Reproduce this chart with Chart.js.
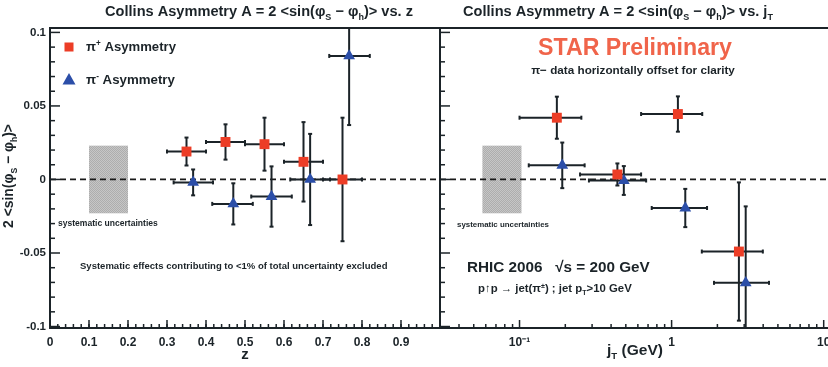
<!DOCTYPE html>
<html><head><meta charset="utf-8">
<script src="https://cdn.jsdelivr.net/npm/chart.js@4.4.1/dist/chart.umd.min.js"></script>
<style>
html,body{margin:0;padding:0;background:#fff;overflow:hidden;width:828px;height:367px}
#wrap{position:relative;width:828px;height:367px;overflow:hidden;background:#fff}
canvas{position:absolute;top:0}
#cz{left:0}
#cj{left:439px}
</style></head>
<body><div id="wrap"><canvas id="cz" width="442" height="367"></canvas><canvas id="cj" width="401" height="367"></canvas></div>
<script>
// ---------------- DATA ----------------
// Left panel: asymmetry vs z
const zPiPlus    = [0.35, 0.45, 0.55, 0.65, 0.75];
const zPiPlusLo  = [0.30, 0.40, 0.50, 0.60, 0.70];
const zPiPlusHi  = [0.40, 0.50, 0.60, 0.70, 0.80];
const aZPiPlus   = [0.019, 0.0255, 0.024, 0.012, 0.000];
const eZPiPlus   = [0.0095, 0.012, 0.018, 0.027, 0.042];

const zPiMinus   = [0.367, 0.470, 0.568, 0.667, 0.767];
const zPiMinusLo = [0.317, 0.416, 0.516, 0.616, 0.716];
const zPiMinusHi = [0.418, 0.520, 0.620, 0.718, 0.820];
const aZPiMinus  = [-0.002, -0.0166, -0.0116, 0.000, 0.084];
const eZPiMinus  = [0.0088, 0.014, 0.0205, 0.031, 0.047];

// Right panel: asymmetry vs jT (GeV)
const jtPiPlus   = [0.176, 0.44, 1.10, 2.77];
const jtPiPlusLo = [0.100, 0.25, 0.63, 1.58];
const jtPiPlusHi = [0.255, 0.63, 1.59, 3.98];
const aJPiPlus   = [0.042, 0.0034, 0.0445, -0.049];
const eJPiPlus   = [0.0143, 0.0075, 0.012, 0.047];

const jtPiMinus   = [0.191, 0.485, 1.23, 3.07];
const jtPiMinusLo = [0.115, 0.286, 0.74, 1.90];
const jtPiMinusHi = [0.268, 0.68, 1.71, 4.37];
const aJPiMinus   = [0.0096, -0.0007, -0.0194, -0.0703];
const eJPiMinus   = [0.0155, 0.0098, 0.013, 0.052];

// systematic uncertainty bands
const sysZRange  = [0.1, 0.2];
const sysJtRange = [0.057, 0.103];
const sysHalf    = 0.023;

// ticks
const yTicks      = [-0.1, -0.05, 0, 0.05, 0.1];
const yTickLabels = ['-0.1', '-0.05', '0', '0.05', '0.1'];
const zTicks      = [0, 0.1, 0.2, 0.3, 0.4, 0.5, 0.6, 0.7, 0.8, 0.9];
const zTickLabels = ['0', '0.1', '0.2', '0.3', '0.4', '0.5', '0.6', '0.7', '0.8', '0.9'];
const jtTicks      = [0.1, 1, 10];
const jtTickLabels = ['10\u207B\u00B9', '1', '10'];

// ---------------- STYLE / HELPERS ----------------
const FONT = '"Liberation Sans", Arial, Helvetica, sans-serif';
const INK = '#1b2328';
const RED = '#ec3d26';
const BLUE = '#2b4ea8';

function setFont(ctx, s){ ctx.font = 'bold ' + s + 'px ' + FONT; }
function partSize(p, s){ return p[1] ? s * 0.62 : s; }
function richWidth(ctx, parts, s){
  let w = 0;
  for (const p of parts){ setFont(ctx, partSize(p, s)); w += ctx.measureText(p[0]).width; }
  return w;
}
function drawRich(ctx, t, ox){
  let s = t.size;
  if (t.fit) s = s * t.fit / richWidth(ctx, t.parts, s);
  const w = richWidth(ctx, t.parts, s);
  ctx.save();
  ctx.fillStyle = t.color || INK;
  ctx.textBaseline = 'alphabetic'; ctx.textAlign = 'left';
  let x = t.x - ox, y = t.y;
  if (t.rotate){ ctx.translate(x, y); ctx.rotate(-Math.PI/2); x = 0; y = 0; }
  let cx = t.align === 'center' ? x - w/2 : (t.align === 'right' ? x - w : x);
  for (const p of t.parts){
    const ps = partSize(p, s); setFont(ctx, ps);
    const dy = p[1] === 'sub' ? s*0.28 : (p[1] === 'sup' ? -s*0.38 : 0);
    ctx.fillText(p[0], cx, y + dy);
    cx += ctx.measureText(p[0]).width;
  }
  ctx.restore();
}
function seg(ctx, x1, y1, x2, y2){ ctx.beginPath(); ctx.moveTo(x1, y1); ctx.lineTo(x2, y2); ctx.stroke(); }

function makePattern(){
  const c = document.createElement('canvas'); c.width = 2; c.height = 2;
  const g = c.getContext('2d');
  g.fillStyle = '#c6c6c6'; g.fillRect(0,0,2,2);
  g.fillStyle = '#adadad'; g.fillRect(0,0,1,1); g.fillRect(1,1,1,1);
  return c;
}
const patCanvas = makePattern();

function decorPlugin(cfg){
  return {
    id: 'decor_' + cfg.name,
    beforeDatasetsDraw(chart){
      const {ctx, chartArea: a, scales: {x, y}} = chart;
      ctx.save();
      ctx.beginPath(); ctx.rect(a.left, a.top, a.right - a.left, a.bottom - a.top); ctx.clip();
      // systematic band
      const bx1 = x.getPixelForValue(cfg.sys[0]), bx2 = x.getPixelForValue(cfg.sys[1]);
      const by1 = y.getPixelForValue(sysHalf), by2 = y.getPixelForValue(-sysHalf);
      ctx.fillStyle = ctx.createPattern(patCanvas, 'repeat');
      ctx.fillRect(bx1, by1, bx2 - bx1, by2 - by1);
      // zero dashed line
      ctx.strokeStyle = '#1a1a1a'; ctx.lineWidth = 1.8; ctx.setLineDash([6, 4]);
      const y0 = y.getPixelForValue(0);
      seg(ctx, a.left, y0, a.right, y0);
      ctx.setLineDash([]);
      // error bars
      ctx.strokeStyle = INK; ctx.lineWidth = 2;
      chart.data.datasets.forEach(ds => {
        ds.data.forEach((pt, i) => {
          const px = x.getPixelForValue(pt.x), py = y.getPixelForValue(pt.y);
          const xl = x.getPixelForValue(ds.xLo[i]), xh = x.getPixelForValue(ds.xHi[i]);
          const yt = y.getPixelForValue(pt.y + ds.yErr[i]), yb = y.getPixelForValue(pt.y - ds.yErr[i]);
          seg(ctx, xl, py, xh, py);
          seg(ctx, px, yt, px, yb);
          seg(ctx, xl, py - 2, xl, py + 2);
          seg(ctx, xh, py - 2, xh, py + 2);
          seg(ctx, px - 2, yt, px + 2, yt);
          seg(ctx, px - 2, yb, px + 2, yb);
        });
      });
      ctx.restore();
    },
    afterDraw(chart){
      const {ctx, chartArea: a, scales: {x, y}} = chart;
      ctx.save();
      ctx.strokeStyle = INK; ctx.lineWidth = 2;
      ctx.strokeRect(a.left, a.top, a.right - a.left, a.bottom - a.top);
      ctx.lineWidth = 1.5;
      // y ticks (inward from left edge)
      for (let k = -10; k <= 10; k++){
        const v = k / 100, py = y.getPixelForValue(v);
        const major = (k % 5 === 0);
        seg(ctx, a.left, py, a.left + (major ? 10 : 5), py);
      }
      // x ticks (inward from bottom)
      cfg.xMinor.forEach(v => {
        const px = x.getPixelForValue(v);
        if (px > a.left + 1 && px < a.right - 1) seg(ctx, px, a.bottom, px, a.bottom - 4);
      });
      cfg.xMajor.forEach(v => {
        const px = x.getPixelForValue(v);
        if (px > a.left + 1 && px < a.right - 1) seg(ctx, px, a.bottom, px, a.bottom - 8);
      });
      ctx.restore();
      // legend markers
      if (cfg.legend){
        ctx.save();
        ctx.fillStyle = RED; ctx.fillRect(64.5, 42.5, 9, 9);
        ctx.fillStyle = BLUE; ctx.beginPath();
        ctx.moveTo(69, 73); ctx.lineTo(75.5, 84.5); ctx.lineTo(62.5, 84.5); ctx.closePath(); ctx.fill();
        ctx.restore();
      }
      cfg.texts.forEach(t => drawRich(ctx, t, cfg.ox));
    }
  };
}

function ds(xs, lo, hi, ys, es, style, color, r){
  return {
    data: xs.map((v, i) => ({x: v, y: ys[i]})),
    xLo: lo, xHi: hi, yErr: es,
    pointStyle: style, pointRadius: r, pointHoverRadius: r,
    backgroundColor: color, borderColor: color, borderWidth: 0
  };
}

function zeroPad(s){ s.paddingLeft = 0; s.paddingRight = 0; s.paddingTop = 0; s.paddingBottom = 0; }

function yScale(show){
  return {
    type: 'linear', min: -0.101, max: 0.103, display: show,
    grid: {display: false, drawTicks: false}, border: {display: false},
    afterFit: s => { s.width = show ? 50 : 0; zeroPad(s); },
    afterBuildTicks: s => { s.ticks = yTicks.map(v => ({value: v})); },
    ticks: {padding: 4, color: INK, font: {family: FONT, size: 11.5, weight: 'bold'},
            callback: (v, i) => yTickLabels[i]}
  };
}

// ---------------- LEFT CHART (vs z) ----------------
const zMinor = []; for (let k = 0; k <= 50; k++) zMinor.push(k * 0.02);
const zMajor = []; for (let k = 0; k <= 10; k++) zMajor.push(k * 0.1);

new Chart(document.getElementById('cz'), {
  type: 'scatter',
  data: {datasets: [
    ds(zPiPlus, zPiPlusLo, zPiPlusHi, aZPiPlus, eZPiPlus, 'rect', RED, 7),
    ds(zPiMinus, zPiMinusLo, zPiMinusHi, aZPiMinus, eZPiMinus, 'triangle', BLUE, 6.8)
  ]},
  options: {
    responsive: false, animation: false, events: [],
    layout: {autoPadding: false, padding: {top: 28, right: 2, left: 0, bottom: 0}},
    plugins: {legend: {display: false}, tooltip: {enabled: false}},
    scales: {
      x: {type: 'linear', min: 0, max: 1,
          grid: {display: false, drawTicks: false}, border: {display: false},
          afterFit: s => { s.height = 39; zeroPad(s); },
          afterBuildTicks: s => { s.ticks = zTicks.map(v => ({value: v})); },
          ticks: {padding: 7, color: INK, maxRotation: 0, autoSkip: false,
                  font: {family: FONT, size: 12, weight: 'bold'},
                  callback: (v, i) => zTickLabels[i]}},
      y: yScale(true)
    }
  },
  plugins: [decorPlugin({
    name: 'z', ox: 0, sys: sysZRange, xMinor: zMinor, xMajor: zMajor, legend: true,
    texts: [
      {parts: [['Collins Asymmetry A = 2 <sin(\u03C6'], ['S', 'sub'], [' \u2212 \u03C6'], ['h', 'sub'], [')> vs. z']],
       x: 259, y: 16, size: 15, fit: 308, align: 'center'},
      {parts: [['\u03C0'], ['+', 'sup'], [' Asymmetry']], x: 86, y: 51, size: 13, fit: 90},
      {parts: [['\u03C0'], ['-', 'sup'], [' Asymmetry']], x: 86, y: 84, size: 13, fit: 89},
      {parts: [['systematic uncertainties']], x: 58, y: 225.5, size: 8, fit: 100},
      {parts: [['Systematic effects contributing to <1% of total uncertainty excluded']], x: 80, y: 269, size: 9, fit: 308},
      {parts: [['2 <sin(\u03C6'], ['S', 'sub'], [' \u2212 \u03C6'], ['h', 'sub'], [')>']],
       x: 13, y: 176, size: 13, fit: 104, align: 'center', rotate: true},
      {parts: [['z']], x: 245, y: 359, size: 15, align: 'center'}
    ]
  })]
});

// ---------------- RIGHT CHART (vs jT) ----------------
const jtMinor = [];
[0.01, 0.1, 1, 10].forEach(d => { for (let m = 2; m <= 9; m++) jtMinor.push(m * d); });

new Chart(document.getElementById('cj'), {
  type: 'scatter',
  data: {datasets: [
    ds(jtPiPlus, jtPiPlusLo, jtPiPlusHi, aJPiPlus, eJPiPlus, 'rect', RED, 7),
    ds(jtPiMinus, jtPiMinusLo, jtPiMinusHi, aJPiMinus, eJPiMinus, 'triangle', BLUE, 6.8)
  ]},
  options: {
    responsive: false, animation: false, events: [],
    layout: {autoPadding: false, padding: {top: 28, right: 0, left: 1, bottom: 0}},
    plugins: {legend: {display: false}, tooltip: {enabled: false}},
    scales: {
      x: {type: 'logarithmic', min: 0.03, max: 12.8,
          grid: {display: false, drawTicks: false}, border: {display: false},
          afterFit: s => { s.height = 39; zeroPad(s); },
          afterBuildTicks: s => { s.ticks = jtTicks.map(v => ({value: v})); },
          ticks: {padding: 7, color: INK, maxRotation: 0, autoSkip: false,
                  font: {family: FONT, size: 12, weight: 'bold'},
                  callback: (v, i) => jtTickLabels[i]}},
      y: yScale(false)
    }
  },
  plugins: [decorPlugin({
    name: 'jt', ox: 439, sys: sysJtRange, xMinor: jtMinor, xMajor: jtTicks, legend: false,
    texts: [
      {parts: [['Collins Asymmetry A = 2 <sin(\u03C6'], ['S', 'sub'], [' \u2212 \u03C6'], ['h', 'sub'], [')> vs. j'], ['T', 'sub']],
       x: 618, y: 16, size: 15, fit: 310, align: 'center'},
      {parts: [['STAR Preliminary']], x: 635, y: 55, size: 22, fit: 194, align: 'center', color: '#f0644a'},
      {parts: [['\u03C0\u2212 data horizontally offset for clarity']], x: 633, y: 73.5, size: 10, fit: 204, align: 'center'},
      {parts: [['systematic uncertainties']], x: 457, y: 227, size: 8, fit: 92},
      {parts: [['RHIC 2006   \u221As = 200 GeV']], x: 467, y: 272, size: 16, fit: 183},
      {parts: [['p\u2191p \u2192 jet(\u03C0'], ['\u00B1', 'sup'], [') ; jet p'], ['T', 'sub'], ['>10 GeV']], x: 478, y: 292, size: 10, fit: 154},
      {parts: [['j'], ['T', 'sub'], [' (GeV)']], x: 607, y: 355, size: 15, fit: 56}
    ]
  })]
});
</script>
</body></html>
